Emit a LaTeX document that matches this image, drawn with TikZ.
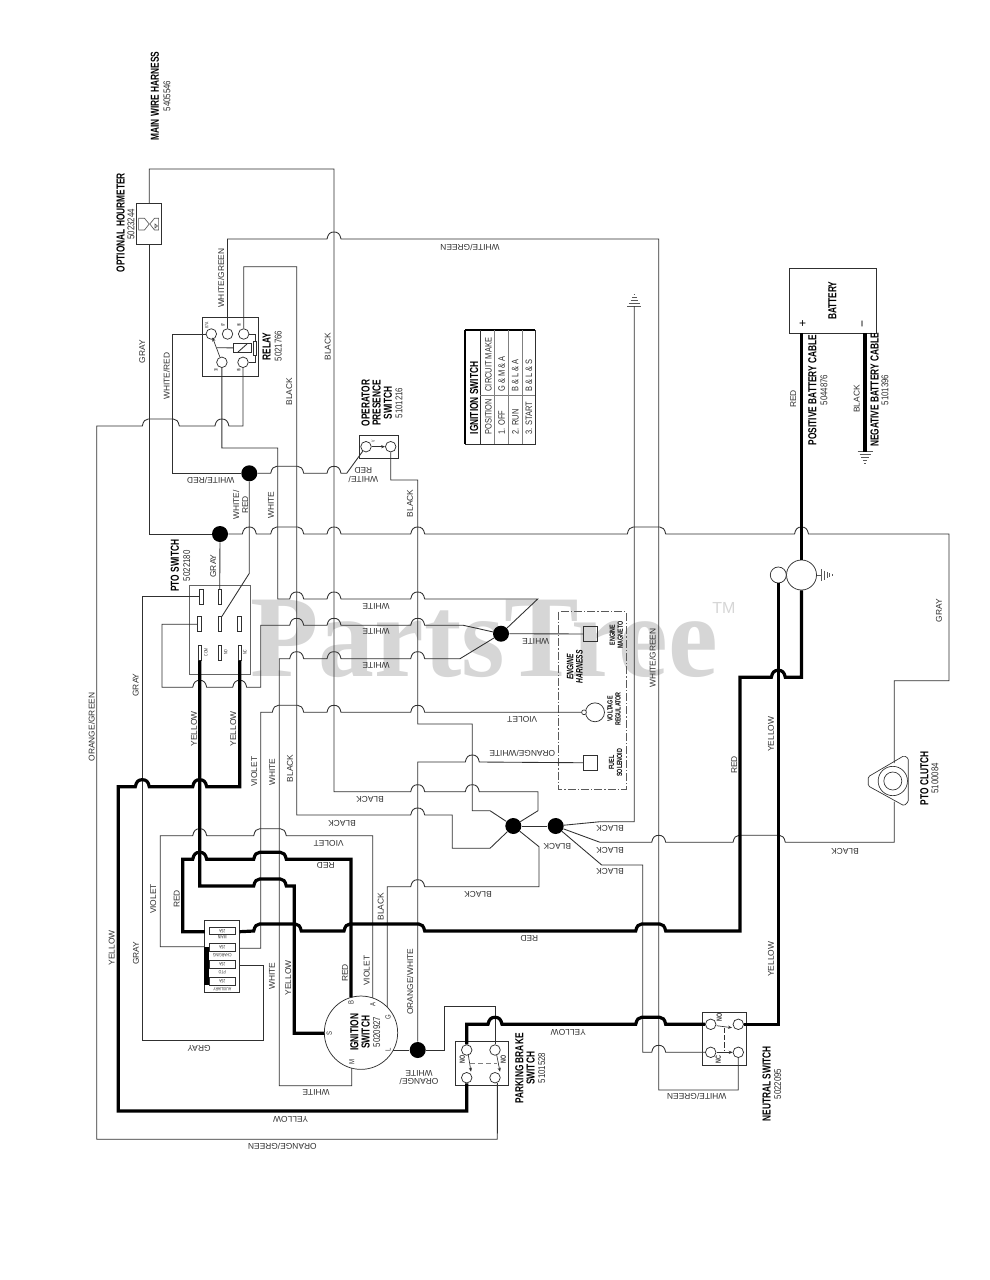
\documentclass[tikz,border=0pt]{standalone}
\usepackage{fontspec}
\usetikzlibrary{arrows.meta}
\setmainfont{Liberation Sans}
\newfontfamily\condf[FakeStretch=.72]{Liberation Sans}
\newfontfamily\partf[FakeStretch=.8]{Liberation Sans}
\newfontfamily\wmf[FakeStretch=.958]{Liberation Serif}
\newcommand\labf{\fontsize{6.3}{6.6}\selectfont}
\newcommand\medb{\condf\bfseries\fontsize{8.7}{8.3}\selectfont}
\newcommand\smb{\condf\bfseries\fontsize{5.6}{6}\selectfont}
\newcommand\partn{\partf\fontsize{7.4}{8}\selectfont}
\newcommand\tinyf{\condf\fontsize{3.6}{4}\selectfont}
% single hop over a vertical at x=#1, on a horizontal at y=#2 (left to right)
\newcommand\hh[2]{-- (#1-7,#2) .. controls (#1-6,#2-5) and (#1-4,#2-7) .. (#1,#2-7) .. controls (#1+4,#2-7) and (#1+6,#2-5) .. (#1+7,#2)}
% joined hop over verticals x=#1..#2, on a horizontal at y=#3
\newcommand\hj[3]{-- (#1-7,#3) .. controls (#1-6,#3-5) and (#1-4,#3-7) .. (#1-1,#3-7) -- (#2+1,#3-7) .. controls (#2+4,#3-7) and (#2+6,#3-5) .. (#2+7,#3)}
\definecolor{wc}{HTML}{303030}
\definecolor{lc}{HTML}{303030}
\definecolor{wm}{HTML}{D6D6D6}
\tikzset{
  wire/.style={draw=wc,line width=.65pt,line join=miter},
  twire/.style={draw=black,line width=2.4pt,line join=miter},
  boxn/.style={draw=wc,line width=.55pt,inner sep=0},
  termc/.style={circle,draw=wc,line width=.55pt,fill=white,minimum size=7.9pt,inner sep=0},
  jdot/.style={circle,fill=black,minimum size=12pt,inner sep=0},
  pinrect/.style={rectangle,draw=wc,line width=.5pt,fill=white,minimum width=2.8pt,minimum height=11.2pt,inner sep=0},
  fuse/.style={rectangle,draw=wc,line width=.6pt,minimum width=20pt,minimum height=5.6pt,inner sep=0},
  lv/.style={rotate=90,font=\labf,text=lc,inner sep=0,align=center},
  lh/.style={rotate=180,font=\labf,text=lc,inner sep=0,align=center},
  bv/.style={rotate=90,font=\medb,inner sep=0,align=center},
  sv/.style={rotate=90,font=\smb,inner sep=0,align=center},
  pv/.style={rotate=90,font=\partn,text=lc,inner sep=0},
  tv/.style={rotate=90,font=\tinyf,text=lc,inner sep=0},
  th/.style={rotate=180,font=\tinyf,text=lc,inner sep=0},
  smallarrow/.style={draw=wc,line width=.5pt,-{Stealth[length=3pt,width=2.4pt]}},
  gndline/.style={draw=wc!80,line width=.5pt},
}
\begin{document}
\begin{tikzpicture}[x=0.75pt,y=-0.75pt]
\useasboundingbox (0,0) rectangle (989,1280);
\fill[white] (0,0) rectangle (989,1280);
% watermark
\node[anchor=base west,inner sep=0,text=wm,font=\wmf\bfseries\fontsize{87.5}{90}\selectfont] (wmark) at (250,676.7) {PartsTree};
\node[inner sep=0,text=wm,font=\fontsize{12}{13}\selectfont] (wmtm) at (724,607.7) {TM};

% ---- junction dots
\node[jdot] (dot1) at (513.3,826) {};
\node[jdot] (dot2) at (555.7,826) {};
\node[jdot] (dot3) at (501,633.7) {};
\node[jdot] (dot4) at (249.3,473.3) {};
\node[jdot] (dot5) at (220,534) {};
\node[jdot] (dotOW) at (417.7,1050) {};

% ---- hourmeter
\node[boxn,minimum width=18.75pt,minimum height=30.75pt] (hour) at (149.3,223.8) {};
\draw[gndline] (138.6,218.3) -- (144.5,218.3) -- (149.2,224) -- (144.5,230) -- (138.6,230) -- cycle;
\draw[gndline] (158.6,218.3) -- (154.5,218.3) -- (149.8,224) -- (154.5,230) -- (158.6,230) -- cycle;
\draw[gndline] (157.5,226) -- (155,224) -- (155,228) -- cycle;

% ---- relay
\node[boxn,minimum width=42pt,minimum height=44pt] (relay) at (230.3,346.7) {};
\node[termc] (r87a) at (211.3,334) {};
\node[termc] (r87) at (227.5,334) {};
\node[termc] (r86) at (243.7,334) {};
\node[termc] (r30) at (221.9,362.3) {};
\node[termc] (r85) at (243,362.3) {};
\node[boxn,minimum width=13.8pt,minimum height=7pt] (coil) at (242.5,348) {};
\draw[wire] (238,352) -- (247,344);
\node[boxn,minimum width=2.6pt,minimum height=10pt] (rres) at (255,348.3) {};
\draw[wire] (r86) -- (255,334) -- (rres);
\draw[wire] (r85) -- (255,362.3) -- (rres);
\draw[smallarrow] (r30) -- (212.5,337.5);
\coordinate (rarm) at (216.8,347.7);
\draw[wire] (rarm) -- (coil);
\node[tv] (t87a) at (206.7,325) {87A};
\node[tv] (t87) at (223,325) {87};
\node[tv] (t86) at (239,325) {86};
\node[tv] (t30) at (216,370) {30};
\node[tv] (t85) at (238.7,370) {85};

% ---- operator presence switch
\node[boxn,minimum width=29pt,minimum height=17.5pt] (opbox) at (378.7,447) {};
\node[termc] (opL) at (366,446.7) {};
\node[termc] (opR) at (390.7,446.7) {};
\draw[smallarrow] (opL) -- (opR);
\node[tv] (opv) at (373.3,441.7) {V};

% ---- PTO switch
\node[draw=wc!75,line width=.5pt,inner sep=0,minimum width=46pt,minimum height=66.5pt] (pto) at (219.7,630) {};
\node[pinrect] (pA) at (201,596.8) {};
\node[pinrect] (pB) at (219.7,596.8) {};
\node[pinrect] (pC) at (199.2,624.2) {};
\node[pinrect] (pD) at (219.7,624.2) {};
\node[pinrect] (pE) at (239.2,624.2) {};
\node[pinrect] (pF) at (199.7,652.8) {};
\node[pinrect] (pG) at (219.7,652.8) {};
\node[pinrect] (pH) at (239.7,652.8) {};
\node[tv] (tcom) at (206,652.3) {COM};
\node[tv] (tno) at (225.7,652) {NO};
\node[tv] (tnc) at (245,652) {NC};

% ---- fuse block
\node[boxn,minimum width=26.5pt,minimum height=54pt] (fblock) at (222,956.7) {};
\node[fuse] (f1) at (222.3,931) {};
\node[fuse] (f2) at (222.3,947.2) {};
\node[fuse] (f3) at (222.3,964.4) {};
\node[fuse] (f4) at (222.3,981.4) {};
\node[th] (f1v) at (222.3,931) {25A};
\node[th] (f2v) at (222.3,947.2) {25A};
\node[th] (f3v) at (222.3,964.4) {25A};
\node[th] (f4v) at (222.3,981.4) {25A};
\node[th] (f1t) at (222.3,937.5) {MAIN};
\node[th] (f2t) at (222.3,955) {CHARGING};
\node[th] (f3t) at (222.3,972) {PTO};
\node[th] (f4t) at (222.3,988.7) {AUXILIARY};
\fill[black] (204,946.7) rectangle (209.3,985);
\coordinate (fML) at (204.8,931.7);
\coordinate (fMR) at (239.7,931.7);
\coordinate (fCL) at (204.8,946.7);
\coordinate (fCR) at (239.7,948.3);
\coordinate (fPR) at (239.7,965.7);

% ---- ignition switch
\node[circle,draw=wc,line width=.55pt,minimum size=55pt,inner sep=0] (ign) at (361,1032.7) {};
\coordinate (ignB) at (351,997.4);
\coordinate (ignA) at (372.7,997.9);
\coordinate (ignG) at (387.3,1007.1);
\coordinate (ignL) at (393.4,1050);
\coordinate (ignM) at (351.7,1068.2);
\coordinate (ignS) at (324.3,1033.3);
\node[bv] (ignt) at (360,1032.3) {IGNITION\\SWITCH};
\node[pv] (ignp) at (376.7,1032) {5020927};
\node[tv,font=\partf\fontsize{5.6}{6}\selectfont] (tB) at (351,1002.5) {B};
\node[tv,font=\partf\fontsize{5.6}{6}\selectfont] (tA) at (372.7,1004) {A};
\node[tv,font=\partf\fontsize{5.6}{6}\selectfont] (tG) at (388,1017) {G};
\node[tv,font=\partf\fontsize{5.6}{6}\selectfont] (tL) at (388,1050) {L};
\node[tv,font=\partf\fontsize{5.6}{6}\selectfont] (tM) at (351.7,1061.7) {M};
\node[tv,font=\partf\fontsize{5.6}{6}\selectfont] (tS) at (329.3,1033) {S};

% ---- parking brake switch
\node[boxn,minimum width=39.5pt,minimum height=33pt] (pkbox) at (481.7,1063.7) {};
\node[termc] (pk1) at (466.7,1050) {};
\node[termc] (pk2) at (495,1050) {};
\node[termc] (pk3) at (466.7,1077.7) {};
\node[termc] (pk4) at (495,1077.7) {};
\coordinate (pkaL) at (468.3,1055);
\coordinate (pkbL) at (471,1071.7);
\coordinate (pkaR) at (496.7,1055);
\coordinate (pkbR) at (500,1071.7);
\draw[smallarrow] (pkaL) -- (pkbL);
\draw[smallarrow] (pkaR) -- (pkbR);
\draw[draw=gray,line width=.6pt,dash pattern=on 4pt off 2pt] (470,1063.7) -- (496.7,1063.7);
\node[tv,font=\smb] (pkno1) at (462.3,1059.3) {NO};
\node[tv,font=\smb] (pkno2) at (503.3,1059.3) {NO};

% ---- neutral switch
\node[boxn,minimum width=33pt,minimum height=39.5pt] (ntbox) at (724.3,1038.7) {};
\node[termc] (nt1) at (710.7,1024.3) {};
\node[termc] (nt2) at (738.3,1024.3) {};
\node[termc] (nt3) at (710.7,1052.3) {};
\node[termc] (nt4) at (738.3,1052.3) {};
\coordinate (ntaL) at (716.7,1025.7);
\coordinate (ntaR) at (732,1027.7);
\coordinate (ntbL) at (716.7,1052.3);
\coordinate (ntbR) at (732.7,1052.3);
\draw[smallarrow] (ntaL) -- (ntaR);
\draw[smallarrow] (ntbL) -- (ntbR);
\draw[wire,dash pattern=on 4pt off 1.5pt] (724.3,1027.5) -- (724.3,1051);
\node[tv,font=\smb] (ntno) at (719.3,1017.3) {NO};
\node[tv,font=\smb] (ntnc) at (718.3,1059.3) {NC};

% ---- engine harness
\draw[draw=wc!80,line width=.5pt,dash pattern=on 6pt off 1.5pt on 1pt off 1.5pt] (558.7,611.7) rectangle (626,789.3);
\node[boxn,minimum width=10.8pt,minimum height=11pt] (mag) at (590.5,634) {};
\node[circle,draw=wc,line width=.55pt,minimum size=14.2pt,inner sep=0] (reg) at (595,712.3) {};
\node[circle,draw=wc,line width=.5pt,fill=white,minimum size=3.6pt,inner sep=0] (regs) at (584,712.3) {};
\node[boxn,minimum width=10.8pt,minimum height=10.8pt] (fuel) at (590.5,762.8) {};
\node[sv] (tmag) at (616.3,635) {ENGINE\\MAGNETO};
\node[sv] (treg) at (614,709) {VOLTAGE\\REGULATOR};
\node[sv] (tfuel) at (615.7,762.7) {FUEL\\SOLENOID};
\node[rotate=90,inner sep=0,align=center,font=\condf\bfseries\itshape\fontsize{7}{7}\selectfont] (thar) at (574.7,666.7) {ENGINE\\HARNESS};

% ---- alternator/starter
\node[circle,draw=wc,line width=.55pt,fill=white,minimum size=22.5pt,inner sep=0] (alt) at (801.5,575) {};
\node[circle,draw=wc,line width=.55pt,fill=white,minimum size=12pt,inner sep=0] (sm) at (778.3,575) {};
\draw[gndline] (alt) -- (821.7,575);
\foreach \gx/\gh in {821.7/6,824.5/4.5,827/3.2,829.5/2,832/.7} {\draw[gndline] (\gx,575-\gh) -- (\gx,575+\gh);}

% ---- battery
\node[boxn,minimum width=65.25pt,minimum height=48.75pt] (batt) at (833.2,300.8) {};
\coordinate (batP) at (801.5,333.3);
\coordinate (batN) at (865,333.3);
\coordinate (gnd2) at (865,451.7);
\coordinate (gnd1) at (634.3,306);
\node[inner sep=0,font=\fontsize{9}{9}\selectfont] (tplus) at (802.7,324) {+};
\node[inner sep=0,rotate=90,font=\fontsize{9}{9}\selectfont] (tminus) at (864,324) {\char"2212};
\foreach \gd/\gh in {0/7.5,3/5.5,6/3.8,9/2.2,12/.7} {\draw[gndline] (865-\gh,451.7+\gd) -- (865+\gh,451.7+\gd);}
\foreach \gd/\gh in {0/7,3/5.5,6/3.8,9/2.2,12/.7} {\draw[gndline] (634.3-\gh,306-\gd) -- (634.3+\gh,306-\gd);}

% ---- PTO clutch
\draw[draw=wc,line width=.5pt,rounded corners=1pt] (868.3,776.7) -- (904,755.7) -- (908.3,758.3) -- (908.3,801.7) -- (904,805.7) -- (868.3,786) -- cycle;
\node[circle,draw=wc,line width=.5pt,minimum size=22pt,inner sep=0] (cl1) at (892.8,781) {};
\node[circle,draw=wc,line width=.5pt,minimum size=13.5pt,inner sep=0] (cl2) at (892.8,781) {};
\coordinate (clT) at (894.3,763);
\coordinate (clB) at (894.3,801.7);

% ---- ignition switch table
\draw[draw=wc,line width=.5pt] (465,330) rectangle (535,444);
\draw[draw=black,line width=.9pt] (465,330) -- (535,330) (465,330) -- (465,444);
\draw[draw=wc,line width=.7pt] (480,330) -- (480,444);
\draw[draw=gray,line width=.5pt] (494,330) -- (494,444) (508.3,330) -- (508.3,444) (522.3,330) -- (522.3,444);
\draw[draw=gray,line width=.5pt] (480,395) -- (535,395);
\node[bv] (ttitle) at (474,398) {IGNITION SWITCH};
\foreach \tx/\ta/\tb/\tn in {488.3/POSITION/CIRCUIT MAKE/a,501.7/1. OFF/G \& M \& A/b,515.3/2. RUN/B \& L \& A/c,529/3. START/B \& L \& S/d} {
  \node[rotate=90,anchor=west,inner sep=0,font=\partf\fontsize{7}{8}\selectfont,text=lc] (tb1\tn) at (\tx,435) {\ta};
  \node[rotate=90,anchor=west,inner sep=0,font=\partf\fontsize{7}{8}\selectfont,text=lc] (tb2\tn) at (\tx,391.7) {\tb};
}

% ======== thin wires
% black
\draw[wire] (hour) -- (149.3,169) -- (334,169) -- (334,791.7) \hh{417.7}{791.7} \hh{472.3}{791.7} -- (538,791.7) -- (538,810.7) -- (dot1);
\draw[wire] (r86) -- (243.7,266.7) -- (296.7,266.7) -- (296.7,815) \hh{417.7}{815} -- (452.3,815) -- (452.3,848.3) -- (490,848.3) -- (dot1);
\draw[wire] (opR) -- (390.7,480) -- (417.7,480) -- (417.7,724) -- (472.3,724) -- (472.3,810.7) -- (490,810.7) -- (dot1);
\draw[wire] (ignG) -- (387.3,886.7) \hh{417.7}{886.7} -- (539,886.7) -- (539,846.7) -- (dot1);
\draw[wire] (dot1) -- (dot2);
\draw[wire] (dot2) -- (600,821.7) -- (634.3,821.7) -- (gnd1);
\draw[wire] (dot2) -- (600,842.3) \hh{658.7}{842.3} \hj{740}{778.3}{842.3} -- (894.3,842.3) -- (clB);
\draw[wire] (dot2) -- (601.7,865) -- (642.7,865) -- (642.7,1052.3) \hh{658.7}{1052.3} -- (nt3);
% gray
\draw[wire] (hour) -- (149.3,534) -- (dot5);
\draw[wire] (dot5) \hh{249.3}{534} \hj{277.7}{296.7}{534} \hh{334}{534} \hh{417.7}{534} \hj{634.3}{658.7}{534} \hh{801.5}{534} -- (949,534) -- (949,680.7) -- (894.3,680.7) -- (clT);
\draw[wire] (dot5) -- (pB);
\draw[wire] (pA) -- (142.3,596.8) -- (142.3,1040.7) -- (263.3,1040.7) -- (263.3,965.7) -- (fPR);
% orange/green
\draw[wire] (pk4.-65) -- (497.3,1139.3) -- (96.7,1139.3) -- (96.7,426) \hj{149.3}{172.3}{426} \hh{221.9}{426} -- (243,426) -- (r85);
% white/green
\draw[wire] (r87) -- (227.5,239) \hh{334}{239} -- (658.7,239) -- (658.7,1090) -- (738.3,1090) -- (nt4);
% white/red
\draw[wire] (r87a) -- (172.3,334) -- (172.3,473.3) -- (dot4);
\draw[wire] (dot4) \hj{277.7}{296.7}{473.3} \hh{334}{473.3} -- (346.7,473.3) -- (opL);
\draw[wire] (dot4) -- (249.3,573.3) -- (pD.north east);
% white
\draw[wire] (r30) -- (221.9,448) -- (277.7,448) -- (277.7,599) \hh{296.7}{599} \hh{334}{599} \hh{417.7}{599} -- (537.7,599) -- (dot3);
\draw[wire] (pC) -- (162,624.2) -- (162,687.3) \hh{199.7}{687.3} \hh{239.7}{687.3} -- (260.7,687.3) -- (260.7,625.3) \hh{296.7}{625.3} \hh{334}{625.3} \hh{417.7}{625.3} -- (463.3,625.3) -- (dot3);
\draw[wire] (ignM) -- (351.7,1085.7) -- (279.3,1085.7) -- (279.3,658.7) \hh{296.7}{658.7} \hh{334}{658.7} \hh{417.7}{658.7} -- (460,658.7) -- (dot3);
\draw[wire] (dot3) -- (mag);
% violet
\draw[wire] (fCR) -- (260.7,948.3) -- (260.7,712.3) \hj{279.3}{296.7}{712.3} \hh{334}{712.3} \hh{417.7}{712.3} -- (regs);
\draw[wire] (fCL) -- (160.3,946.7) -- (160.3,835.7) \hh{199.7}{835.7} \hj{260.7}{279.3}{835.7} -- (372.7,835.7) -- (ignA);
% orange/white
\draw[wire] (dotOW) -- (417.7,762) \hh{472.3}{762} -- (fuel);
\draw[wire] (ignL) -- (dotOW);
\draw[wire] (dotOW) -- (444,1050) -- (444,1006.7) -- (495,1006.7) -- (pk2);

% ======== thick wires
\draw[twire] (fMR) \hj{260.7}{294.3}{931} \hj{351}{417.7}{931} \hj{642.7}{658.7}{931} -- (740,931) -- (740,677.3) \hh{778.3}{677.3} -- (801.5,677.3) -- (alt);
\draw[twire] (batP) -- (alt);
\draw[twire] (sm) -- (778.3,1024.3) -- (nt2);
\draw[twire] (fML) -- (182.7,931.7) -- (182.7,859.3) \hh{199.7}{859.3} \hj{260.7}{279.3}{859.3} -- (351,859.3) -- (ignB);
\draw[twire] (pF.south) -- (199.7,886) \hj{260.7}{279.3}{886} -- (294.3,886) -- (294.3,1033.3) -- (ignS);
\draw[twire] (pk3) -- (466.7,1111) -- (118.3,1111) -- (118.3,786.7) \hh{142.3}{786.7} \hh{199.7}{786.7} -- (239.7,786.7) -- (pH.south);
\draw[twire] (pk1) -- (466.7,1024.3) \hh{495}{1024.3} \hj{642.7}{658.7}{1024.3} -- (nt1);
\draw[twire] (batN) -- (gnd2);

% ======== component titles
\node[bv] (tmain) at (155,96) {MAIN WIRE HARNESS};
\node[pv] (pmain) at (167,96) {5405546};
\node[bv] (thour) at (120.7,222.7) {OPTIONAL HOURMETER};
\node[pv] (phour) at (131,224.3) {5023244};
\node[bv] (trelay) at (266.7,346.7) {RELAY};
\node[pv] (prelay) at (278.3,346) {5021766};
\node[bv] (top) at (376.7,403) {OPERATOR\\PRESENCE\\SWITCH};
\node[pv] (pop) at (399,403) {5101216};
\node[bv] (tpto) at (175,565.7) {PTO SWITCH};
\node[pv] (ppto) at (186.7,565.7) {5022180};
\node[bv] (tpk) at (525,1068.3) {PARKING BRAKE\\SWITCH};
\node[pv] (ppk) at (541.7,1068) {5101528};
\node[bv] (tnt) at (766.7,1084) {NEUTRAL SWITCH};
\node[pv] (pnt) at (777.7,1084) {5022095};
\node[bv] (tcl) at (924.3,778.3) {PTO CLUTCH};
\node[pv] (pcl) at (935,778.3) {5100084};
\node[bv] (tbat) at (832.3,300.7) {BATTERY};
\node[bv] (tpos) at (812.3,390) {POSITIVE BATTERY CABLE};
\node[pv] (ppos) at (824,390) {5044876};
\node[bv] (tneg) at (874.5,390) {NEGATIVE BATTERY CABLE};
\node[pv] (pneg) at (885,390) {5101396};

% ======== wire labels
\node[lv] at (142.3,351.7) {GRAY};
\node[lv] at (166.7,376) {WHITE/RED};
\node[lv] at (221,278.3) {WHITE/GREEN};
\node[lv] at (327.7,346.7) {BLACK};
\node[lv] at (289.3,391.7) {BLACK};
\node[lh] at (470,248) {WHITE/GREEN};
\node[lh] at (363.3,475) {WHITE/\\RED};
\node[lh] at (210.7,480.7) {WHITE/RED};
\node[lv] at (240.6,505) {WHITE/\\RED};
\node[lv] at (271,505) {WHITE};
\node[lv] at (410,503.3) {BLACK};
\node[lv] at (213.3,566) {GRAY};
\node[lh] at (376,606) {WHITE};
\node[lh] at (376,631.7) {WHITE};
\node[lh] at (376,665.7) {WHITE};
\node[lv] at (194,729) {YELLOW};
\node[lv] at (233.3,729) {YELLOW};
\node[lv] at (135.7,685) {GRAY};
\node[lv] at (91.7,727) {ORANGE/GREEN};
\node[lv] at (254.3,771.7) {VIOLET};
\node[lv] at (272.3,772.3) {WHITE};
\node[lv] at (290,768.3) {BLACK};
\node[lh] at (370,799) {BLACK};
\node[lh] at (342,823.3) {BLACK};
\node[lh] at (328.7,843.3) {VIOLET};
\node[lh] at (325.7,865.7) {RED};
\node[lv] at (176.7,899) {RED};
\node[lv] at (153.3,899) {VIOLET};
\node[lv] at (111.7,948) {YELLOW};
\node[lv] at (136,953) {GRAY};
\node[lv] at (272,976) {WHITE};
\node[lv] at (288.3,978) {YELLOW};
\node[lv] at (345,973) {RED};
\node[lv] at (366.7,970.7) {VIOLET};
\node[lv] at (380.7,906.7) {BLACK};
\node[lv] at (410,981.7) {ORANGE/WHITE};
\node[lh] at (478,894) {BLACK};
\node[lh] at (199,1048) {GRAY};
\node[lh] at (316,1092.3) {WHITE};
\node[lh] at (419,1077.5) {ORANGE/\\WHITE};
\node[lh] at (290.7,1119.3) {YELLOW};
\node[lh] at (282.3,1146.7) {ORANGE/GREEN};
\node[lh] at (529.3,938.3) {RED};
\node[lh] at (568.3,1032.7) {YELLOW};
\node[lh] at (696.7,1096.7) {WHITE/GREEN};
\node[lv] at (771,959.3) {YELLOW};
\node[lv] at (734.3,765) {RED};
\node[lv] at (771,734.3) {YELLOW};
\node[lv] at (652.7,658) {WHITE/GREEN};
\node[lh] at (522.3,719.3) {VIOLET};
\node[lh] at (522.3,753.3) {ORANGE/WHITE};
\node[lh] at (535.7,641) {WHITE};
\node[lh] at (610,828.7) {BLACK};
\node[lh] at (610,850) {BLACK};
\node[lh] at (610,871.7) {BLACK};
\node[lh] at (557.3,846.7) {BLACK};
\node[lh] at (845,851.7) {BLACK};
\node[lv] at (939,610.7) {GRAY};
\node[lv] at (793.3,399) {RED};
\node[lv] at (856.7,399) {BLACK};
\end{tikzpicture}
\end{document}
